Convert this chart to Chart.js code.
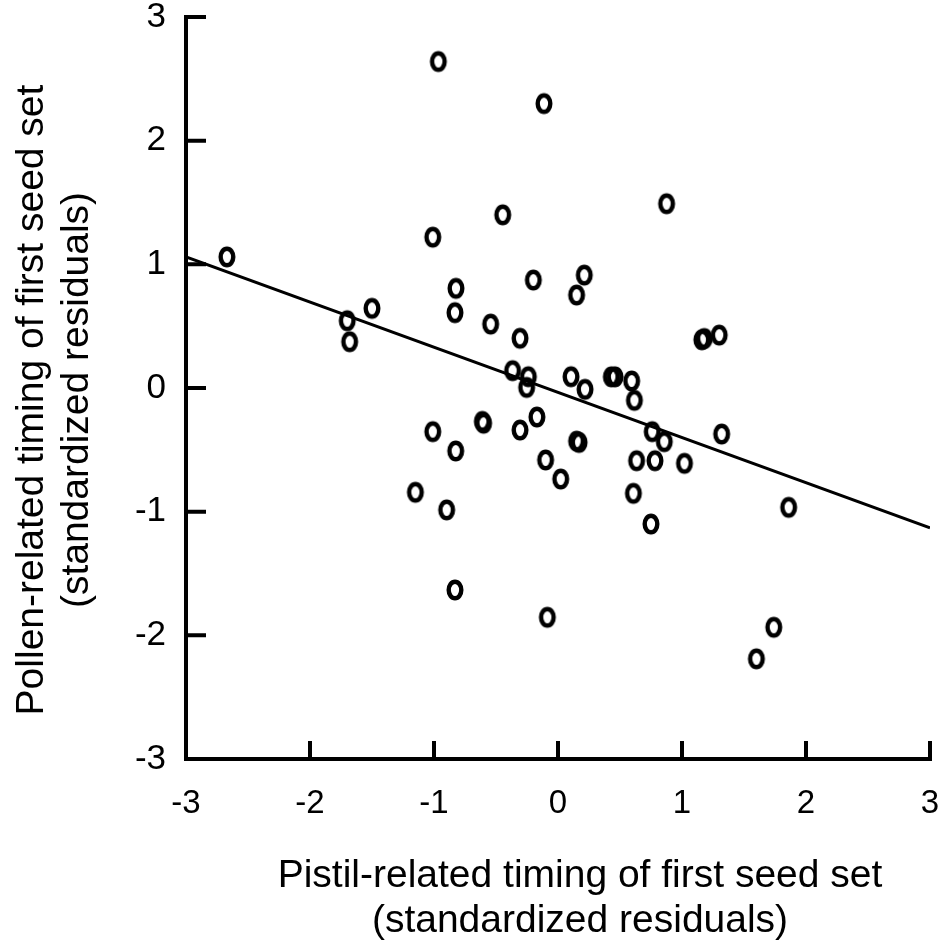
<!DOCTYPE html>
<html>
<head>
<meta charset="utf-8">
<script src="https://cdn.jsdelivr.net/npm/chart.js@4.4.1/dist/chart.umd.min.js"></script>
<style>
  html, body { margin: 0; padding: 0; background: #fff; overflow: hidden; }
  canvas { display: block; }
</style>
</head>
<body>
<canvas id="seedSet" width="945" height="943"></canvas>
<script>
// values (standardized residuals)
var pistilX = [
  -0.965, -0.113, -0.446, -1.01, -2.67, -0.199, -0.823, -0.831, -1.50, -1.70,
  -1.68, -0.543, -0.306, -0.366, -0.239, -0.253, 0.876, 0.212, 0.150, 1.16,
  1.18, 1.30, 0.105, 0.218, 0.43, 0.46, 0.594, 0.616, -0.17, 0.15,
  0.17, -0.10, 0.022, 0.76, 0.857, 1.32, 0.634, 0.782, 1.02, 0.608,
  0.75, 1.86, -0.086, 1.74, 1.60, -0.61, -0.60, -0.306, -1.01, -0.825,
  -1.15, -0.898, -0.831
];
var pollenY = [
  2.64, 2.30, 1.40, 1.22, 1.06, 0.873, 0.806, 0.609, 0.644, 0.544,
  0.374, 0.517, 0.402, 0.140, 0.091, 0.005, 1.49, 0.913, 0.752, 0.39,
  0.40, 0.428, 0.091, -0.011, 0.09, 0.09, 0.057, -0.10, -0.235, -0.43,
  -0.44, -0.582, -0.736, -0.353, -0.434, -0.372, -0.588, -0.588, -0.609, -0.852,
  -1.10, -0.965, -1.854, -1.935, -2.19, -0.27, -0.285, -0.34, -0.353, -0.509,
  -0.843, -0.986, -1.633
];
// regression line end points
var fitX = [-3, 3];
var fitY = [1.06, -1.13];
var tickValues = [-3, -2, -1, 0, 1, 2, 3];
var xTitle = ["Pistil-related timing of first seed set", "(standardized residuals)"];
var yTitle = ["Pollen-related timing of first seed set", "(standardized residuals)"];

var FONT = "'Liberation Sans', Arial, sans-serif";

// open ring marker, a bit taller than wide, heavy stroke
function ringMarker() {
  var c = document.createElement("canvas");
  c.width = 24;
  c.height = 28;
  var g = c.getContext("2d");
  g.strokeStyle = "#000";
  g.lineWidth = 4.4;
  g.beginPath();
  g.ellipse(12, 14, 6.3, 8.3, 0, 0, Math.PI * 2);
  g.stroke();
  return c;
}

// tick marks point into the plot
var inwardTicks = {
  id: "inwardTicks",
  afterDraw: function (chart) {
    var ctx = chart.ctx, area = chart.chartArea;
    var xs = chart.scales.x, ys = chart.scales.y;
    ctx.save();
    ctx.strokeStyle = "#000";
    ctx.lineWidth = 4;
    ctx.beginPath();
    tickValues.forEach(function (v) {
      if (v === xs.min) return;
      var px = xs.getPixelForValue(v);
      ctx.moveTo(px, area.bottom + 2);
      ctx.lineTo(px, area.bottom - 18);
    });
    tickValues.forEach(function (v) {
      if (v === ys.min) return;
      var py = ys.getPixelForValue(v);
      ctx.moveTo(area.left - 2, py);
      ctx.lineTo(area.left + 20, py);
    });
    ctx.stroke();
    ctx.restore();
  }
};

// axis titles sit a little off the plot centre in the original
var axisTitles = {
  id: "axisTitles",
  afterDraw: function (chart) {
    var ctx = chart.ctx, area = chart.chartArea;
    var cx = (area.left + area.right) / 2 + 22;
    var cy = (area.top + area.bottom) / 2 + 12;
    ctx.save();
    ctx.fillStyle = "#000";
    ctx.font = "39px " + FONT;
    ctx.textAlign = "center";
    ctx.textBaseline = "alphabetic";
    xTitle.forEach(function (t, i) {
      ctx.fillText(t, cx, area.bottom + 128 + i * 45);
    });
    ctx.translate(43, cy);
    ctx.rotate(-Math.PI / 2);
    yTitle.forEach(function (t, i) {
      ctx.fillText(t, 0, i * 45);
    });
    ctx.restore();
  }
};

var points = pistilX.map(function (x, i) { return { x: x, y: pollenY[i] }; });
var fitLine = fitX.map(function (x, i) { return { x: x, y: fitY[i] }; });

new Chart(document.getElementById("seedSet"), {
  type: "scatter",
  data: {
    datasets: [
      {
        data: points,
        pointStyle: ringMarker(),
        pointRadius: 8,
        pointHoverRadius: 8
      },
      {
        type: "line",
        data: fitLine,
        borderColor: "#000",
        borderWidth: 3,
        pointRadius: 0,
        fill: false
      }
    ]
  },
  options: {
    responsive: false,
    animation: false,
    events: [],
    layout: { padding: { top: 17, right: 15, bottom: 0, left: 0 } },
    plugins: {
      legend: { display: false },
      tooltip: { enabled: false }
    },
    scales: {
      x: {
        type: "linear",
        min: -3,
        max: 3,
        afterBuildTicks: function (s) { s.ticks = tickValues.map(function (v) { return { value: v }; }); },
        afterFit: function (s) { s.height = 184; s.paddingLeft = 0; s.paddingRight = 0; },
        grid: { display: false, drawTicks: false },
        border: { display: true, color: "#000", width: 4 },
        ticks: { color: "#000", padding: 25, font: { family: FONT, size: 33 } }
      },
      y: {
        type: "linear",
        min: -3,
        max: 3,
        afterBuildTicks: function (s) { s.ticks = tickValues.map(function (v) { return { value: v }; }); },
        afterFit: function (s) { s.width = 186; s.paddingTop = 0; s.paddingBottom = 0; },
        grid: { display: false, drawTicks: false },
        border: { display: true, color: "#000", width: 4 },
        ticks: { color: "#000", padding: 20, font: { family: FONT, size: 35 } }
      }
    }
  },
  plugins: [inwardTicks, axisTitles]
});
</script>
</body>
</html>
